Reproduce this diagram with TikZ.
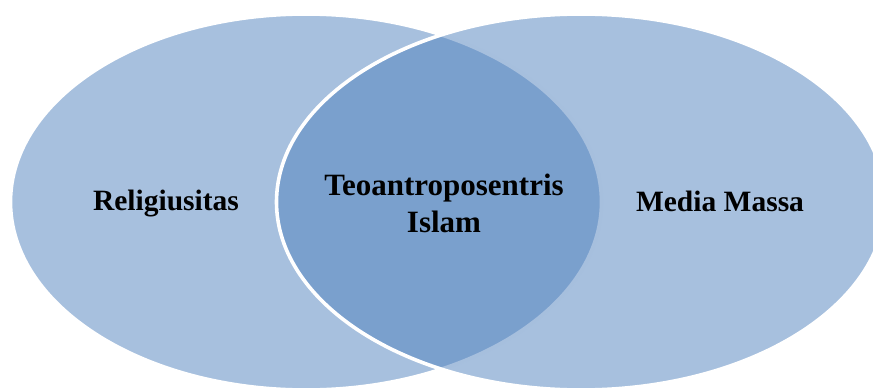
\documentclass[tikz,border=0pt]{standalone}
\usepackage{fontspec}
\setmainfont{Liberation Serif}
\usetikzlibrary{shapes.geometric}
\definecolor{accent}{HTML}{4F81BD}
\tikzset{
  vennset/.style={ellipse, inner sep=0pt, outer sep=0pt, fill=accent, fill opacity=0.5,
    draw=white, draw opacity=1, line width=3.6pt},
  sidelabel/.style={anchor=base, inner sep=0pt, font=\bfseries\fontsize{29.5}{37}\selectfont},
  midlabel/.style={anchor=center, inner sep=0pt, align=center, font=\bfseries\fontsize{31}{37}\selectfont}
}
\begin{document}
\begin{tikzpicture}[x=1pt,y=-1pt]
\useasboundingbox (0,0) rectangle (873,388);
\node[vennset, minimum width=591pt, minimum height=376pt] (left) at (306,202) {};
\node[vennset, minimum width=609pt, minimum height=376pt] (right) at (581,202) {};
\node[sidelabel] (rel) at (166,210) {Religiusitas};
\node[sidelabel] (media) at (720,211) {Media Massa};
\node[midlabel] (teo) at (444,203) {Teoantroposentris\\Islam};
\end{tikzpicture}
\end{document}
